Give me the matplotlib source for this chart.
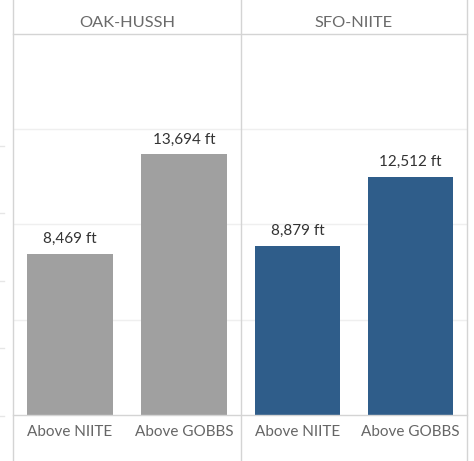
import matplotlib
matplotlib.use("Agg")
import matplotlib.pyplot as plt
from matplotlib.lines import Line2D

# ---- data ----
panels = ["OAK-HUSSH", "SFO-NIITE"]
categories = ["Above NIITE", "Above GOBBS"]
oak_values = [8469, 13694]
sfo_values = [8879, 12512]
panel_colors = ["#a0a0a0", "#2f5d8a"]
y_ticks = [0, 5000, 10000, 15000, 20000]

W, H = 474, 461
fig = plt.figure(figsize=(W / 100, H / 100), dpi=100)
plt.rcParams['font.family'] = ['Lato', 'DejaVu Sans']

def fx(px):
    return px / W

def fy(py):
    return 1 - py / H

def hline(y, x0, x1, color="#d4d4d4", lw=1.0):
    fig.add_artist(Line2D([fx(x0), fx(x1)], [fy(y), fy(y)], color=color, lw=lw,
                          transform=fig.transFigure))

def vline(x, y0, y1, color="#d4d4d4", lw=1.0):
    fig.add_artist(Line2D([fx(x), fx(x)], [fy(y0), fy(y1)], color=color, lw=lw,
                          transform=fig.transFigure))

panel_px = [(13, 241), (241, 467)]
top_px, bot_px = 34, 415
values = [oak_values, sfo_values]

for i, (name, (x0, x1)) in enumerate(zip(panels, panel_px)):
    ax = fig.add_axes([fx(x0), fy(bot_px), (x1 - x0) / W, (bot_px - top_px) / H])
    ax.set_xlim(-0.5, 1.5)
    ax.set_ylim(0, 20000)
    for t in y_ticks[1:-1]:
        ax.axhline(t, color="#efefef", lw=1.0, zorder=0)
    xs = list(range(len(categories)))
    ax.bar(xs, values[i], width=0.755, color=panel_colors[i], zorder=2)
    for x, v in zip(xs, values[i]):
        ax.text(x, v + 400, f"{v:,} ft", ha="center", va="bottom",
                fontsize=11, color="#333333")
    ax.set_xticks([])
    ax.set_yticks([])
    for s in ax.spines.values():
        s.set_visible(False)
    ax.patch.set_alpha(0)
    # header text
    fig.text(fx((x0 + x1) / 2), fy(23), name, ha="center", va="center",
             fontsize=11.8, color="#6a6a6a")
    # category labels
    slot = (x1 - x0) / 2
    for j, c in enumerate(categories):
        fig.text(fx(x0 + slot * (j + 0.5)), fy(432), c, ha="center", va="center",
                 fontsize=11, color="#666666")

# frame lines
vline(13, 0, H)
vline(241, 0, H)
vline(467, 0, H)
hline(34, 13, 467)
hline(415, 13, 467)
# faint stray ticks at the far left
for y in [146, 213, 281, 348, 416]:
    hline(y, 0, 4, color="#e6e6e6")

fig.savefig("out.png", dpi=100)
